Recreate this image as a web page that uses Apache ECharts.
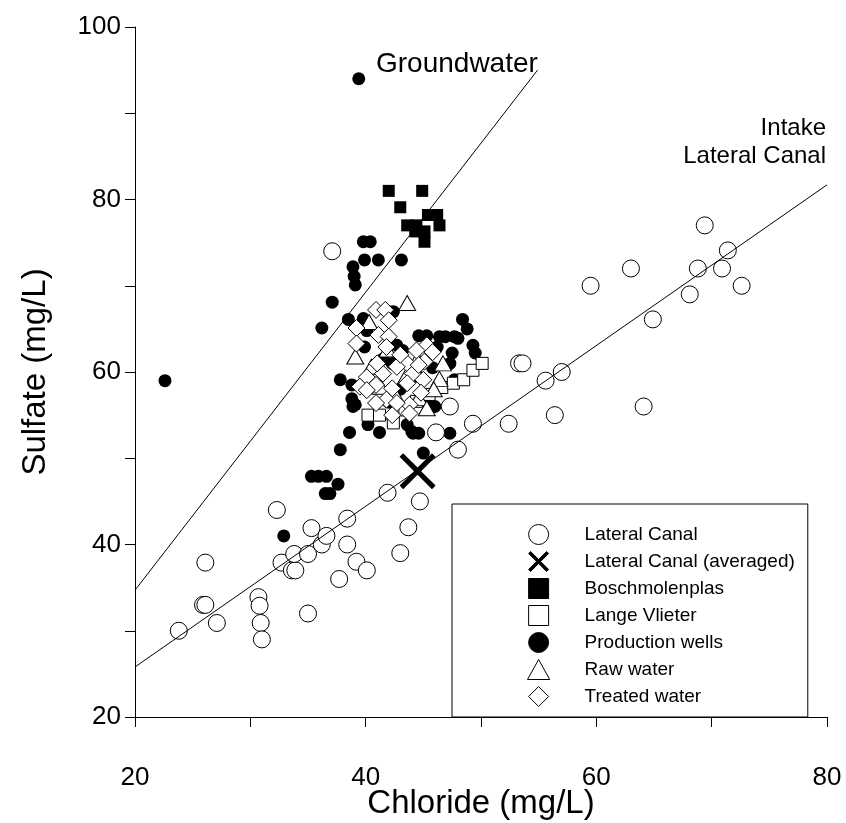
<!DOCTYPE html>
<html>
<head>
<meta charset="utf-8">
<script src="https://cdn.jsdelivr.net/npm/echarts@6/dist/echarts.min.js"></script>
<style>
  html, body { margin: 0; padding: 0; background: #fff; }
  #chart { width: 846px; height: 823px; }
</style>
</head>
<body>
<div id="chart"></div>
<script>
// Chloride (x) vs sulfate (y), mg/L
const lateralCanal = [
  [23.8,30.0],[25.9,33.0],[26.1,33.0],[26.1,37.9],[27.1,30.9],[30.7,33.9],[30.8,32.9],[30.9,30.9],
  [31.0,29.0],[32.3,44.0],[32.7,37.9],[33.6,37.0],[33.9,37.0],[33.8,38.9],[35.0,38.9],[35.0,32.0],
  [35.3,41.9],[36.2,40.0],[36.6,41.0],[37.7,36.0],[38.4,40.0],[38.4,43.0],[39.2,38.0],[40.1,37.0],
  [41.9,46.0],[43.0,39.0],[43.7,42.0],[44.7,45.0],[37.1,74.0],[46.1,53.0],[47.3,56.0],[48.0,51.0],
  [49.3,54.0],[52.4,54.0],[53.3,61.0],[53.6,61.0],[55.6,59.0],[57.0,60.0],[56.4,55.0],[59.5,70.0],
  [63.0,72.0],[64.1,56.0],[64.9,66.1],[68.1,69.0],[68.8,72.0],[69.4,77.0],[70.9,72.0],[71.4,74.1],
  [72.6,70.0]
];
const lateralCanalAveraged = [[44.5,48.5]];
const boschmolenplas = [
  [42.0,81.0],[44.9,81.0],[43.0,79.1],[45.4,78.2],[46.2,78.2],[43.6,77.0],[44.4,77.0],[46.4,77.0],
  [44.3,76.3],[45.1,76.3],[45.1,75.1]
];
const langeVlieter = [
  [40.2,55.0],[41.2,55.0],[42.4,54.1],[43.4,55.6],[44.4,56.6],[45.5,57.4],[46.6,58.2],[47.6,58.7],
  [48.5,59.1],[49.3,60.2],[50.1,61.0]
];
const productionWells = [
  [22.6,59.0],[39.4,94.0],[39.8,75.1],[40.4,75.1],[39.9,73.0],[41.1,73.0],[43.1,73.0],[38.9,72.2],
  [39.0,71.1],[39.1,70.1],[37.1,68.1],[36.2,65.1],[38.5,66.1],[39.8,66.2],[42.0,67.0],[42.4,67.0],
  [40.1,64.8],[39.9,62.9],[42.3,61.0],[42.7,63.1],[48.4,66.1],[48.8,65.0],[48.0,63.9],[46.4,64.1],
  [46.9,64.1],[47.7,64.1],[49.3,63.1],[49.5,62.2],[44.6,64.2],[45.3,64.2],[46.2,62.9],[47.5,62.2],
  [47.3,61.0],[47.7,59.1],[46.0,56.0],[45.4,56.8],[44.6,52.9],[44.1,52.9],[47.3,52.9],[43.6,53.9],
  [45.0,50.6],[37.8,59.1],[38.9,56.0],[38.8,56.9],[40.2,53.9],[41.2,53.0],[38.6,53.0],[37.8,51.0],
  [44.0,53.1],[35.3,47.9],[35.9,47.9],[36.6,47.9],[36.5,45.9],[36.9,45.9],[37.6,47.0],[32.9,41.0],
  [39.1,56.2],[42.0,56.5],[43.0,58.0],[44.5,59.5],[45.8,60.5],[41.5,61.5],[43.2,62.5],[38.8,58.5]
];
const rawWater = [
  [43.6,68.0],[39.1,61.8],[40.3,65.8],[41.9,62.6],[46.4,59.2],[46.7,61.0],[44.6,57.0],[45.3,55.8],
  [42.6,57.3],[43.5,59.5],[41.3,58.3],[44.5,61.5],[45.9,58.0],[40.5,60.6]
];
const treatedWater = [
  [40.9,67.2],[41.7,67.2],[39.2,65.1],[41.1,64.3],[42.0,64.1],[39.2,63.3],[41.8,62.9],[45.3,63.1],
  [44.4,62.5],[43.6,61.0],[42.7,60.6],[45.1,61.2],[44.1,59.8],[40.1,59.4],[41.5,59.8],[39.5,58.3],
  [40.9,58.5],[42.3,58.1],[43.6,58.7],[45.0,59.1],[40.1,57.9],[41.8,56.8],[43.8,56.2],[42.7,56.4],
  [42.3,55.0],[43.8,55.2],[40.9,56.4],[44.6,60.8],[43.0,62.0],[45.8,62.3],[44.8,57.6],[41.0,61.0],
  [42.0,66.0]
];
// Mixing lines
const groundwaterLine = [[20,34.7],[54.9,95.0]];
const intakeLine = [[20,25.8],[80,81.7]];

const xTicks = [20, 40, 60, 80];
const yTicks = [20, 40, 60, 80, 100];

const FONT = 'Liberation Sans, Arial, sans-serif';
const crossPath = 'path://M2,0 L10,8 L18,0 L20,2 L12,10 L20,18 L18,20 L10,12 L2,20 L0,18 L8,10 L0,2 Z';
// Square-proportioned legend icons
const squareIcon = 'path://M0,0 L20,0 L20,20 L0,20 Z';
const triangleIcon = 'path://M10,0 L20,18 L0,18 Z';
const diamondIcon = 'path://M10,0 L20,10 L10,20 L0,10 Z';

const openStyle = { color: '#fff', borderColor: '#000', borderWidth: 1, opacity: 1 };
const solidStyle = { color: '#000', borderColor: '#000', borderWidth: 0, opacity: 1 };

const chart = echarts.init(document.getElementById('chart'), null, { renderer: 'canvas' });

chart.setOption({
  animation: false,
  backgroundColor: '#fff',
  textStyle: { fontFamily: FONT, color: '#000' },
  grid: { left: 135, right: 19, top: 27, bottom: 106, containLabel: false, outerBoundsMode: 'none' },
  xAxis: {
    type: 'value', min: 20, max: 80, interval: 10,
    name: 'Chloride (mg/L)', nameLocation: 'middle', nameGap: 70, nameMoveOverlap: false,
    nameTextStyle: { fontSize: 33, color: '#000', fontFamily: FONT },
    axisLine: { show: true, onZero: false, lineStyle: { color: '#000', width: 1 } },
    axisTick: { show: true, inside: false, length: 10, lineStyle: { color: '#000' } },
    axisLabel: { fontSize: 26, color: '#000', margin: 48, fontFamily: FONT,
      formatter: v => xTicks.includes(v) ? String(v) : '' },
    splitLine: { show: false }
  },
  yAxis: {
    type: 'value', min: 20, max: 100, interval: 10,
    name: 'Sulfate (mg/L)', nameLocation: 'middle', nameGap: 83, nameMoveOverlap: false,
    nameTextStyle: { fontSize: 33, color: '#000', fontFamily: FONT },
    axisLine: { show: true, onZero: false, lineStyle: { color: '#000', width: 1 } },
    axisTick: { show: true, inside: false, length: 10, lineStyle: { color: '#000' } },
    axisLabel: { fontSize: 26, color: '#000', margin: 14, fontFamily: FONT,
      formatter: v => yTicks.includes(v) ? String(v) : '' },
    splitLine: { show: false }
  },
  legend: {
    orient: 'vertical', left: 452, top: 504,
    padding: [20, 13, 10, 75],
    itemWidth: 82, itemHeight: 20, itemGap: 6,
    symbolKeepAspect: true,
    borderColor: '#000', borderWidth: 1, backgroundColor: '#fff',
    selectedMode: false,
    itemStyle: { borderWidth: 1 },
    textStyle: { fontSize: 19, color: '#000', fontFamily: FONT, lineHeight: 21 },
    data: [
      { name: 'Lateral Canal' },
      { name: 'Lateral Canal (averaged)' },
      { name: 'Boschmolenplas', icon: squareIcon },
      { name: 'Lange Vlieter', icon: squareIcon },
      { name: 'Production wells' },
      { name: 'Raw water', icon: triangleIcon },
      { name: 'Treated water', icon: diamondIcon }
    ]
  },
  series: [
    { name: 'Production wells', type: 'scatter', data: productionWells, symbol: 'circle',
      symbolSize: 13, itemStyle: solidStyle, z: 2 },
    { name: 'Lange Vlieter path', type: 'line', data: langeVlieter, showSymbol: false,
      lineStyle: { color: '#000', width: 1 }, silent: true, z: 3 },
    { name: 'Lange Vlieter', type: 'scatter', data: langeVlieter, symbol: 'rect',
      symbolSize: 12, itemStyle: openStyle, z: 3 },
    { name: 'Raw water', type: 'scatter', data: rawWater, symbol: 'triangle',
      symbolSize: [17, 15], itemStyle: openStyle, z: 3 },
    { name: 'Treated water', type: 'scatter', data: treatedWater, symbol: 'diamond',
      symbolSize: 17, itemStyle: openStyle, z: 4 },
    { name: 'Boschmolenplas', type: 'scatter', data: boschmolenplas, symbol: 'rect',
      symbolSize: 12, itemStyle: solidStyle, z: 4 },
    { name: 'Lateral Canal', type: 'scatter', data: lateralCanal, symbol: 'circle',
      symbolSize: 17, itemStyle: openStyle, z: 4 },
    { name: 'Groundwater line', type: 'line', data: groundwaterLine, showSymbol: false,
      lineStyle: { color: '#000', width: 1 }, silent: true, z: 5 },
    { name: 'Intake line', type: 'line', data: intakeLine, showSymbol: false,
      lineStyle: { color: '#000', width: 1 }, silent: true, z: 5 },
    { name: 'Lateral Canal (averaged)', type: 'scatter', data: lateralCanalAveraged,
      symbol: crossPath, symbolSize: 36, symbolKeepAspect: true,
      itemStyle: { color: '#000', borderColor: '#000', borderWidth: 0, opacity: 1 }, z: 6 }
  ],
  graphic: [
    { type: 'text', left: 376, top: 50, style: { text: 'Groundwater', font: '28px ' + FONT, fill: '#000' } },
    { type: 'text', right: 20, top: 116, style: { text: 'Intake', font: '24px ' + FONT, fill: '#000', textAlign: 'right' } },
    { type: 'text', right: 20, top: 144, style: { text: 'Lateral Canal', font: '24px ' + FONT, fill: '#000', textAlign: 'right' } }
  ]
});
</script>
</body>
</html>
